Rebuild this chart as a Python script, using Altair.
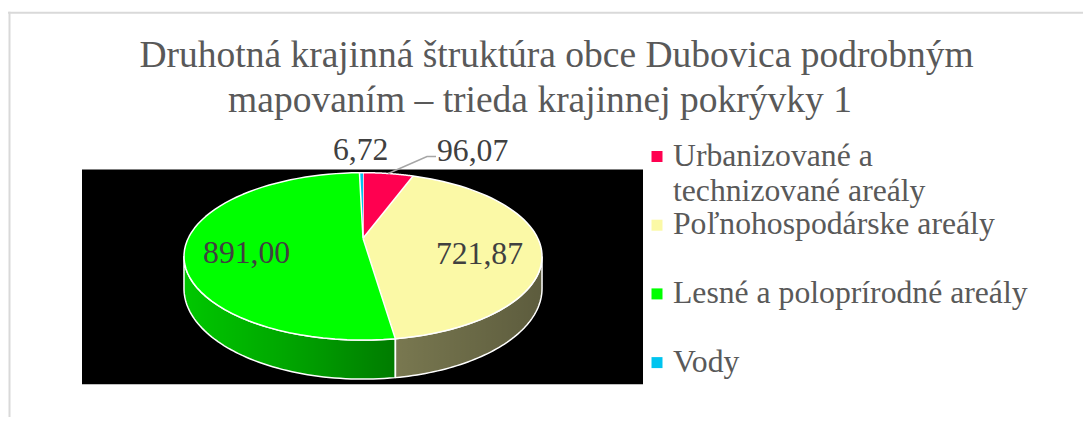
import math
import altair as alt
import pandas as pd

# ---- data -------------------------------------------------------------
categories = [
    "Urbanizované a technizované areály",
    "Poľnohospodárske areály",
    "Lesné a poloprírodné areály",
    "Vody",
]
values = [96.07, 721.87, 891.00, 6.72]
legend_labels = [
    "Urbanizované a\ntechnizované areály",
    "Poľnohospodárske areály",
    "Lesné a poloprírodné areály",
    "Vody",
]
colors = ["#ff0050", "#fbf9a6", "#00ff00", "#00c4ef"]
title_lines = [
    "Druhotná krajinná štruktúra obce Dubovica podrobným",
    "mapovaním – trieda  krajinnej pokrývky 1",
]

df = pd.DataFrame({
    "cat": categories,
    "value": values,
    "legend": legend_labels,
    "i": list(range(len(categories))),
})

# ---- layout constants (view pixels) ----------------------------------
W, HH = 1075, 409
CX, CY, R, H, K, D = 355, 230.3, 174.8, 79.8, 0.216, 30.6
N = 60
L0 = math.acos(-K)
L1 = 2 * math.pi - L0
FONT = "Liberation Serif"
FS = 31.7

xs = alt.Scale(domain=[0, W], nice=False, zero=False)
ys = alt.Scale(domain=[0, HH], nice=False, zero=False, reverse=True)
cs = alt.Scale(domain=categories, range=colors)


def X(f):
    return alt.X(f"{f}:Q", scale=xs, axis=None)


def Y(f):
    return alt.Y(f"{f}:Q", scale=ys, axis=None)


def project(ch, extra="0"):
    return (ch.transform_calculate(s=f"1/(1 - {K}*datum.v)")
              .transform_calculate(px=f"{CX} + {R}*datum.u*datum.s")
              .transform_calculate(py=f"{CY} + {H}*datum.v*datum.s + ({extra})*datum.s"))


base = (alt.Chart(df)
        .transform_joinaggregate(total="sum(value)")
        .transform_window(cum="sum(value)", sort=[alt.SortField("i")])
        .transform_calculate(a0="(datum.cum - datum.value)/datum.total*2*PI")
        .transform_calculate(a1="datum.cum/datum.total*2*PI")
        .transform_calculate(share="datum.value/datum.total")
        .transform_calculate(t="(datum.a0 + datum.a1)/2"))

# ---- top face ----------------------------------------------------------
top = (base.transform_calculate(pts=f"sequence(-1, {N + 1})")
       .transform_flatten(["pts"], as_=["k"])
       .transform_calculate(tt=f"datum.a0 + (datum.a1 - datum.a0)*max(datum.k, 0)/{N}")
       .transform_calculate(rr="datum.k < 0 ? 0 : 1")
       .transform_calculate(u="datum.rr*sin(datum.tt)")
       .transform_calculate(v="-datum.rr*cos(datum.tt)"))
top = project(top).mark_line(stroke="white", strokeWidth=1.5, strokeJoin="round").encode(
    x=X("px"), y=Y("py"),
    fill=alt.Fill("cat:N", scale=cs, legend=None),
    detail="cat:N", order=alt.Order("k:Q"))


# ---- walls -------------------------------------------------------------
def wall_path(ch, t_expr):
    ch = (ch.transform_calculate(pts=f"sequence(0, {2 * N + 3})")
          .transform_flatten(["pts"], as_=["k"])
          .transform_calculate(low=f"(datum.k > {N} && datum.k <= {2 * N + 1}) ? 1 : 0")
          .transform_calculate(j=f"datum.k <= {N} ? datum.k : (datum.k <= {2 * N + 1} ? {2 * N + 1} - datum.k : 0)")
          .transform_calculate(tt=t_expr)
          .transform_calculate(u="sin(datum.tt)")
          .transform_calculate(v="-cos(datum.tt)"))
    return project(ch, extra=f"{D}*datum.low")


walls = (base.transform_calculate(b0=f"max(datum.a0, {L0})")
         .transform_calculate(b1=f"min(datum.a1, {L1})")
         .transform_filter("datum.b1 > datum.b0"))
walls = wall_path(walls, f"datum.b0 + (datum.b1 - datum.b0)*datum.j/{N}")

wall_fill = walls.mark_line(strokeOpacity=0).encode(
    x=X("px"), y=Y("py"),
    fill=alt.Fill("cat:N", scale=cs, legend=None),
    detail="cat:N", order=alt.Order("k:Q"))
wall_line = walls.mark_line(stroke="white", strokeWidth=1.5, strokeJoin="round").encode(
    x=X("px"), y=Y("py"), detail="cat:N", order=alt.Order("k:Q"))

shade = {
    "gradient": "linear", "x1": 0, "x2": 1, "y1": 0, "y2": 0,
    "stops": [
        {"offset": 0, "color": "rgba(0,0,0,0.22)"},
        {"offset": 0.27, "color": "rgba(0,0,0,0.34)"},
        {"offset": 0.6, "color": "rgba(0,0,0,0.52)"},
        {"offset": 1, "color": "rgba(0,0,0,0.63)"},
    ],
}
band = wall_path(alt.Chart(df).transform_filter("datum.i == 0"),
                 f"{L0} + ({L1 - L0})*datum.j/{N}")
band = band.mark_line(fill=shade, strokeOpacity=0).encode(
    x=X("px"), y=Y("py"), order=alt.Order("k:Q"))


# ---- data labels -------------------------------------------------------
def label_pos(ch, r):
    return (ch.transform_calculate(lv=f"-{r}*cos(datum.t)")
              .transform_calculate(ls=f"1/(1 - {K}*datum.lv)")
              .transform_calculate(side="sin(datum.t) > 0.1 ? 1 : (sin(datum.t) < -0.1 ? -1 : 0)")
              .transform_calculate(lx=f"{CX} + {R}*{r}*sin(datum.t)*datum.ls")
              .transform_calculate(ly=f"{CY} + {H}*datum.lv*datum.ls")
              .transform_calculate(lbl="replace(format(datum.value, '.2f'), '.', ',')"))


txt = dict(font=FONT, fontSize=FS, color="#404040", baseline="alphabetic")

inside = label_pos(base.transform_filter("datum.share >= 0.08"), 0.66).mark_text(
    align="center", dy=20, **txt).encode(x=X("lx"), y=Y("ly"), text="lbl:N")

outside = label_pos(base.transform_filter("datum.share < 0.08"), 1.4)
outside = (outside.transform_calculate(ox="datum.lx + datum.side*41")
           .transform_calculate(oy="datum.ly + 7"))
out_c = outside.transform_filter("datum.side == 0").mark_text(align="center", **txt).encode(
    x=X("ox"), y=Y("oy"), text="lbl:N")
out_r = outside.transform_filter("datum.side > 0").mark_text(align="left", **txt).encode(
    x=X("ox"), y=Y("oy"), text="lbl:N")
out_l = outside.transform_filter("datum.side < 0").mark_text(align="right", **txt).encode(
    x=X("ox"), y=Y("oy"), text="lbl:N")

lead = (outside.transform_filter("datum.side != 0")
        .transform_calculate(es=f"1/(1 + {K}*cos(datum.t))")
        .transform_calculate(ex=f"{CX} + {R}*sin(datum.t)*datum.es")
        .transform_calculate(ey=f"{CY} - {H}*cos(datum.t)*datum.es")
        .transform_calculate(pts="sequence(0, 3)")
        .transform_flatten(["pts"], as_=["k"])
        .transform_calculate(gx="datum.k == 0 ? datum.ex : (datum.k == 1 ? datum.ox - 10*datum.side : datum.ox - datum.side)")
        .transform_calculate(gy="datum.k == 0 ? datum.ey : datum.oy - 4"))
lead = lead.mark_line(color="#a6a6a6", strokeWidth=1.5).encode(
    x=X("gx"), y=Y("gy"), detail="cat:N", order=alt.Order("k:Q"))

# ---- legend ------------------------------------------------------------
leg = alt.Chart(df).transform_calculate(ly="148.5 + 68.7*datum.i")
leg_sq = leg.mark_square(size=121, opacity=1, filled=True, strokeWidth=0).encode(
    x=alt.value(649), y=Y("ly"), color=alt.Color("cat:N", scale=cs, legend=None))
leg_tx = leg.mark_text(align="left", baseline="top", dy=-16, lineBreak="\n", lineHeight=35,
                       font=FONT, fontSize=FS, color="#595959").encode(
    x=alt.value(665), y=Y("ly"), text="legend:N")

# ---- decorations: frame, plot background, title -------------------------
dummy = alt.Data(values=[{"a": 1}])
frame_top = alt.Chart(dummy).mark_rule(color="#d9d9d9", strokeWidth=2).encode(
    x=alt.value(0), x2=alt.value(W), y=alt.value(4.7))
frame_left = alt.Chart(dummy).mark_rule(color="#d9d9d9", strokeWidth=2).encode(
    x=alt.value(1.5), y=alt.value(3.7), y2=alt.value(HH))
plot_bg = alt.Chart(dummy).mark_rect(color="black").encode(
    x=alt.value(74), x2=alt.value(635), y=alt.value(161.5), y2=alt.value(376.3))

tstyle = dict(font=FONT, fontSize=37.5, color="#595959", baseline="alphabetic", align="center")
title1 = alt.Chart(dummy).mark_text(text=title_lines[0], **tstyle).encode(
    x=alt.value(548.5), y=alt.value(58.7))
title2 = alt.Chart(dummy).mark_text(text=title_lines[1], **tstyle).encode(
    x=alt.value(532), y=alt.value(103.7))

chart = alt.layer(
    frame_top, frame_left, plot_bg,
    wall_fill, band, wall_line, top,
    inside, out_c, out_r, out_l, lead,
    leg_sq, leg_tx, title1, title2,
).properties(
    width=W, height=HH,
    autosize=alt.AutoSizeParams(type="none"),
    padding=0,
    background="white",
).configure_view(strokeWidth=0)

chart.save("out.html", embed_options={"renderer": "svg", "actions": False})
